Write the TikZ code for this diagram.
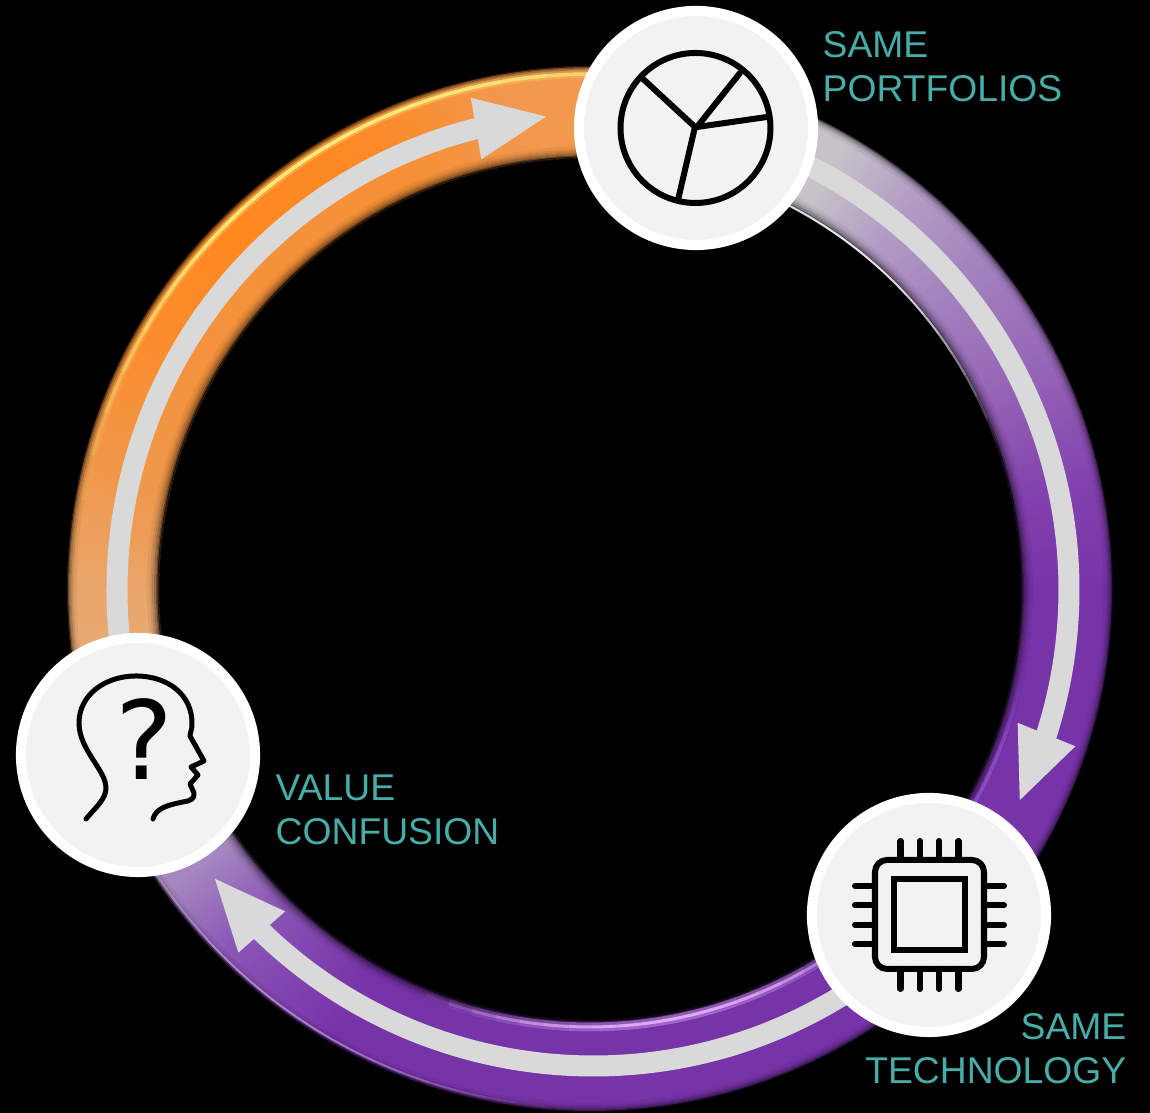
\documentclass[tikz,border=0pt]{standalone}
\usepackage{fontspec}
\setmainfont{Liberation Sans}
\newfontfamily\markfont{DejaVu Sans}
\usetikzlibrary{arrows.meta,bending}
\definecolor{colorBand}{HTML}{D9D9D9}
\definecolor{colorDisc}{HTML}{F2F2F2}
\definecolor{colorLabel}{HTML}{47ADA8}
\definecolor{colorSand}{HTML}{E8B48E}
\definecolor{colorTan}{HTML}{E9A66B}
\definecolor{colorOrA}{HTML}{F19748}
\definecolor{colorOrB}{HTML}{FB8C2D}
\definecolor{colorOrC}{HTML}{FF8820}
\definecolor{colorOrD}{HTML}{FB8A28}
\definecolor{colorOrE}{HTML}{F2984C}
\definecolor{colorOrF}{HTML}{F29B50}
\definecolor{colorVeil}{HTML}{EE9A50}
\definecolor{colorPuA}{HTML}{7733A8}
\definecolor{colorPuB}{HTML}{8342AE}
\definecolor{colorPuC}{HTML}{9563B6}
\definecolor{colorPuD}{HTML}{A27FBD}
\definecolor{colorPuE}{HTML}{B29CC4}
\definecolor{colorPuF}{HTML}{C6C2C8}
\definecolor{colorPuG}{HTML}{CFCBC9}
\definecolor{colorPuH}{HTML}{8A55B6}
\definecolor{colorPuI}{HTML}{A688C0}
\definecolor{colorPuJ}{HTML}{B090C5}
\definecolor{colorGlowO}{HTML}{FFEE80}
\definecolor{colorGlowP}{HTML}{E0A8FF}
\definecolor{colorGlowQ}{HTML}{A060E0}
\definecolor{colorGlowR}{HTML}{D0B0F0}
\tikzset{
  iconDisc/.style={circle,draw=white,fill=colorDisc,line width=0.1cm,minimum size=2.34cm,inner sep=0pt},
  iconLine/.style={black,line width=0.06cm,line cap=round,line join=round},
  bandArrow/.style={colorBand,line width=0.21cm,-{Triangle[length=0.74cm,width=0.56cm,flex]}},
  ringLabel/.style={text=colorLabel,inner sep=0pt,font=\fontsize{10.6}{12.5}\selectfont}
}

\begin{document}
\begin{tikzpicture}[x=0.01cm,y=0.01cm]
    \useasboundingbox (0,0) rectangle (1150,1113);
    \fill[black] (0,0) rectangle (1150,1113);
    \coordinate (ringC) at (590,524);
    \coordinate (bandC) at (593,523);
    % the ring, in short pieces so the colour can run along it
    \foreach \angA/\angB/\colA/\colB in {
        77/100/colorOrF/colorOrE,100/115/colorOrE/colorOrD,115/135/colorOrD/colorOrC,
        135/150/colorOrC/colorOrB,150/165/colorOrB/colorOrA,165/180/colorOrA/colorTan,
        180/205/colorTan/colorSand,
        -155/-145/colorPuJ/colorPuI,-145/-135/colorPuI/colorPuH,-135/-120/colorPuH/colorPuA,
        -120/0/colorPuA/colorPuA,0/12/colorPuA/colorPuB,12/25/colorPuB/colorPuC,
        25/38/colorPuC/colorPuD,38/50/colorPuD/colorPuE,50/60/colorPuE/colorPuF,
        60/77/colorPuF/colorPuG}{
        \foreach \pct in {0,5,...,95}{
            \pgfmathsetmacro\angS{\angA+(\angB-\angA)*\pct*0.01}
            \pgfmathsetmacro\angD{(\angB-\angA)*0.05+0.2}
            \draw[draw=\colB!\pct!\colA,line width=0.92cm] ([shift={(\angS:477)}]ringC) arc[start angle=\angS,delta angle=\angD,radius=477];
        }
    }
    % inner half of the orange part is paler
    \foreach \pct in {0,5,...,95}{
        \pgfmathsetmacro\angS{95+85*\pct*0.01}
        \pgfmathsetmacro\opS{0.55*sin(1.8*(\pct+2.5))}
        \draw[draw=colorVeil,draw opacity=\opS,line width=0.38cm] ([shift={(\angS:450)}]ringC) arc[start angle=\angS,delta angle=4.25,radius=450];
    }
    % soft rim, outside and inside
    \foreach \rad/\wid/\opac in {523/0.02/0.8,521.5/0.02/0.5,519.5/0.02/0.28,517.5/0.02/0.14,515/0.03/0.05,
        431.5/0.02/0.8,433/0.02/0.55,435/0.02/0.35,437/0.02/0.22,439/0.02/0.12,441.5/0.03/0.05}{
        \draw[black,opacity=\opac,line width=\wid cm] (ringC) circle[radius=\rad];
    }
    % shiny streaks
    \foreach \rad/\wid/\colH/\angA/\angB/\opac in {
        515/0.08/colorGlowO/70/170/0.3,515/0.035/colorGlowO/70/170/0.95,
        438/0.09/colorGlowP/-112/-48/0.45,438/0.03/colorGlowP/-112/-48/1,
        440/0.04/colorGlowQ/-40/-12/0.55,
        519/0.02/colorGlowR/-160/-95/0.65,
        432/0.02/white/20/85/0.9}{
        \foreach \pct in {0,5,...,95}{
            \pgfmathsetmacro\angS{\angA+(\angB-\angA)*\pct*0.01}
            \pgfmathsetmacro\angD{(\angB-\angA)*0.05}
            \pgfmathsetmacro\opS{\opac*sin(1.8*(\pct+2.5))}
            \draw[draw=\colH,draw opacity=\opS,line width=\wid cm] ([shift={(\angS:\rad)}]ringC) arc[start angle=\angS,delta angle=\angD,radius=\rad];
        }
    }
    % the three arrows, tails hidden below the discs
    \coordinate (tailOne) at ([shift={(195:476)}]bandC);
    \coordinate (tailTwo) at ([shift={(70:476)}]bandC);
    \coordinate (tailThree) at ([shift={(-55:476)}]bandC);
    \draw[bandArrow] (tailOne) arc[start angle=195,end angle=95.3,radius=476];
    \draw[bandArrow] (tailTwo) arc[start angle=70,end angle=-26.6,radius=476];
    \draw[bandArrow] (tailThree) arc[start angle=-55,end angle=-143,radius=476];

    \node[iconDisc] (discPie) at (696,985) {};
    \node[iconDisc] (discChip) at (929,198) {};
    \node[iconDisc] (discHead) at (138,358) {};

    \begin{scope}[shift={(discPie.center)}]
        \draw[iconLine] (-0.5,0) circle[radius=75];
        \draw[iconLine] (-1,1) -- (-54,50);
        \draw[iconLine] (1,1) -- (44,55);
        \draw[iconLine] (1,1) -- (71,11);
        \draw[iconLine] (-1,1) -- (-18,-72);
    \end{scope}

    \begin{scope}[shift={(discChip.center)}]
        \draw[iconLine,rounded corners=0.12cm] (-54,-54) rectangle (55,55);
        \draw[iconLine,line cap=butt,line join=miter] (-35,-35) rectangle (36,36);
        \foreach \d in {-29,-9.7,9.7,29}{
            \draw[iconLine] (\d+0.5,55) -- (\d+0.5,74);
            \draw[iconLine] (\d+0.5,-54) -- (\d+0.5,-74);
            \draw[iconLine] (55,\d) -- (75,\d);
            \draw[iconLine] (-54,\d) -- (-74,\d);
        }
    \end{scope}

    \begin{scope}[shift={(discHead.center)}]
        \draw[iconLine,line width=0.05cm] (-52,-64) .. controls (-42,-52) and (-32,-44) .. (-32,-33)
            .. controls (-32,-15) and (-59,5) .. (-59,32)
            .. controls (-59,60) and (-33,79) .. (-2,79)
            .. controls (30,79) and (55,60) .. (54,30)
            .. controls (54,25) and (52,22) .. (52,19)
            -- (66,-6) -- (53,-12) -- (60,-20) -- (52,-29) -- (56,-38)
            .. controls (57,-44) and (52,-46) .. (45,-47)
            .. controls (30,-50) and (18,-53) .. (15,-64);
        \node[font=\markfont\fontsize{31}{31}\selectfont,inner sep=0pt] (markHead) at (6,16) {?};
    \end{scope}

    \node[ringLabel,anchor=north west,align=left] (labelPie) at (822,1082) {SAME\\PORTFOLIOS};
    \node[ringLabel,anchor=north west,align=left] (labelHead) at (275,339) {VALUE\\CONFUSION};
    \node[ringLabel,anchor=north east,align=right] (labelChip) at (1127,100) {SAME\\TECHNOLOGY};
\end{tikzpicture}
\end{document}
